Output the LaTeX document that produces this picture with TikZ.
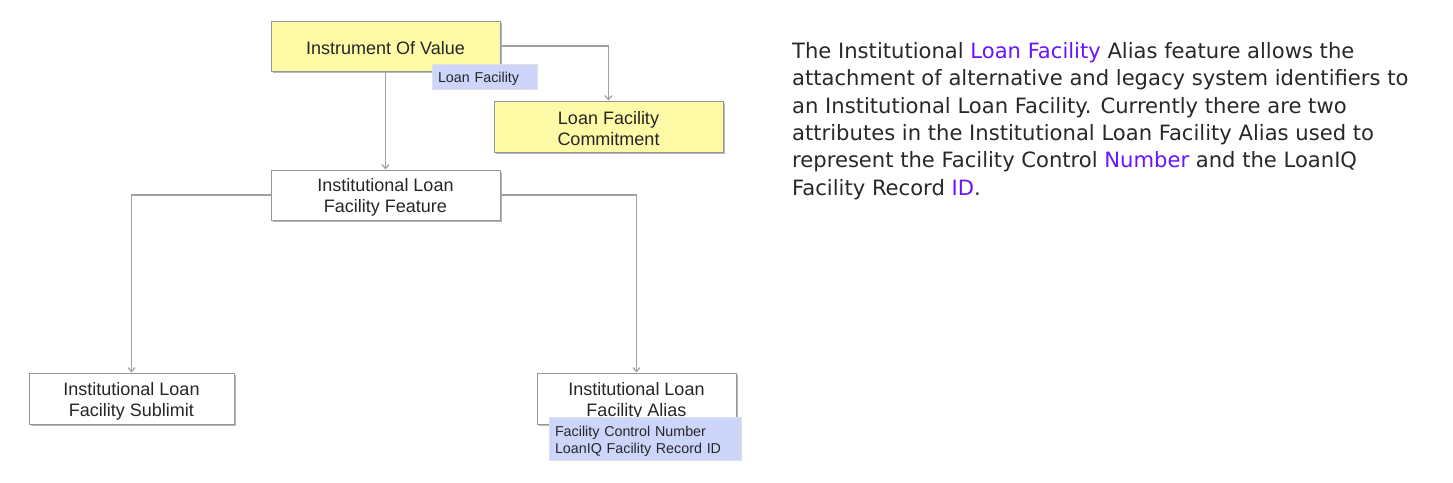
\documentclass[tikz,border=0pt]{standalone}
\usepackage{fontspec}
\setmainfont{Liberation Sans}
\newfontfamily\parafont{DejaVu Sans}
\usetikzlibrary{arrows.meta,shadows}
\definecolor{boxyellow}{RGB}{255,250,165}
\definecolor{tagblue}{RGB}{205,213,250}
\definecolor{edgegray}{RGB}{150,150,150}
\definecolor{linegray}{RGB}{160,160,160}
\definecolor{paratext}{RGB}{40,40,40}
\definecolor{linkpurple}{RGB}{105,20,255}
\begin{document}
\begin{tikzpicture}[x=1pt,y=-1pt,
  box/.style={draw=edgegray,line width=1pt,rectangle,inner sep=0pt,
    drop shadow={shadow xshift=1.5pt,shadow yshift=-1.5pt,fill=black!40,opacity=0.7}},
  boxtext/.style={align=center,inner sep=0pt,yshift=-2.5pt,
    font=\fontsize{18}{21}\selectfont,text=black!85},
  ybox/.style={box,fill=boxyellow},
  wbox/.style={box,fill=white},
  tag/.style={draw=black!12,line width=0.6pt,fill=tagblue,rectangle,inner sep=0pt},
  tagtext/.style={inner sep=0pt,yshift=-2.5pt,
    font=\fontsize{14.3}{17}\selectfont,text=black!85,align=left},
  conn/.style={draw=linegray,line width=1.2pt,-{Straight Barb[length=4pt,width=7pt]}}
]
\useasboundingbox (0,0) rectangle (1453,482);
\fill[white] (0,0) rectangle (1453,482);

\node[ybox,minimum width=229pt,minimum height=50pt,
  label={[boxtext]center:Instrument Of Value}] (iov) at (385.5,46) {};
\node[ybox,minimum width=229pt,minimum height=51pt,
  label={[boxtext]center:{Loan Facility\\Commitment}}] (comm) at (608.5,126.5) {};
\node[wbox,minimum width=229pt,minimum height=50pt,
  label={[boxtext]center:{Institutional Loan\\Facility Feature}}] (feat) at (385.5,195) {};
\node[wbox,minimum width=205pt,minimum height=51pt,
  label={[boxtext]center:{Institutional Loan\\Facility Sublimit}}] (sub) at (131.5,398.5) {};
\node[wbox,minimum width=199pt,minimum height=51pt,
  label={[boxtext]center:{Institutional Loan\\Facility Alias}}] (alias) at (636.5,398.5) {};

\node[tag,minimum width=105pt,minimum height=25pt,
  label={[tagtext,text width=93pt]center:Loan Facility}] (lftag) at (484.5,76.5) {};
\node[tag,minimum width=192pt,minimum height=43pt,
  label={[tagtext,text width=180pt]center:{Facility Control Number\\LoanIQ Facility Record ID}}] (aliastag) at (645,438.5) {};

\draw[conn] (iov.east) -| (comm.north);
\draw[conn] (iov.south) -- (feat.north);
\draw[conn] (feat.west) -| (sub.north);
\draw[conn] (feat.east) -| (alias.north);

\node[anchor=north west,inner sep=0pt,align=left,text=paratext,
  font=\parafont\fontsize{21.1}{27.4}\selectfont] (desc) at (792,42)
{The Institutional {\color{linkpurple}Loan Facility} Alias feature allows the\\
attachment of alternative and legacy system identifiers to\\
an Institutional Loan Facility. Currently there are two\\
attributes in the Institutional Loan Facility Alias used to\\
represent the Facility Control {\color{linkpurple}Number} and the LoanIQ\\
Facility Record {\color{linkpurple}ID}.};
\end{tikzpicture}
\end{document}
